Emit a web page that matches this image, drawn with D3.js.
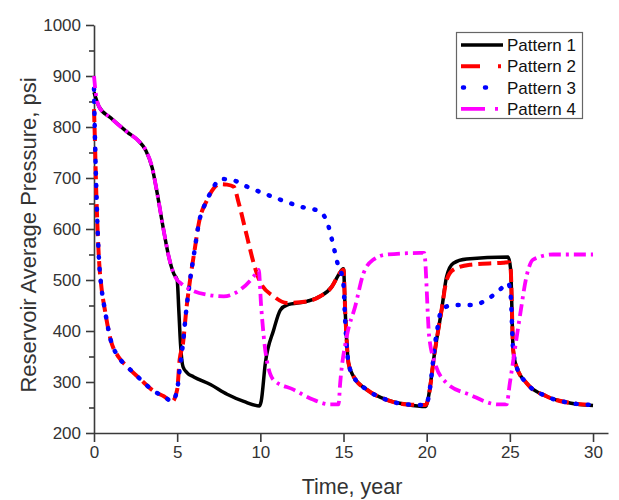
<!DOCTYPE html>
<html>
<head>
<meta charset="utf-8">
<script src="https://cdn.jsdelivr.net/npm/d3@7"></script>
<style>
  html, body { margin: 0; padding: 0; background: #fff; }
  svg { display: block; font-family: "Liberation Sans", Arial, sans-serif; }
</style>
</head>
<body>
<svg id="chart" width="619" height="500"></svg>
<script>
// Reservoir average pressure (psi) against time (years) for four injection patterns.
const xTicks = [0, 5, 10, 15, 20, 25, 30];
const yTicks = [200, 300, 400, 500, 600, 700, 800, 900, 1000];
const yMinorTicks = [250, 350, 450, 550, 650, 750, 850, 950];
const seriesNames = ["Pattern 1", "Pattern 2", "Pattern 3", "Pattern 4"];

const pattern1Time = [0, 0.3, 1, 2, 2.7, 3.1, 3.5, 3.8, 4.2, 4.5, 4.8, 5.0, 5.1, 5.2, 5.35, 5.6, 6, 7, 8, 9, 9.95,
  10.05, 10.3, 10.8, 11.2, 11.6, 12.8, 13.6, 14.3, 14.7, 14.9, 15.0, 15.1, 15.3, 15.6, 16.4, 17.6, 18.8, 19.95,
  20.05, 20.5, 20.9, 21.2, 21.6, 22.4, 24.9, 25.05, 25.2, 25.4, 26, 27.2, 28.6, 30];
const pattern1Value = [868, 840, 818, 790, 772, 755, 720, 670, 595, 545, 512, 500, 440, 375, 330, 318, 310, 295, 276, 262, 253,
  262, 337, 402, 441, 451, 458, 468, 487, 510, 520, 522, 440, 337, 311, 285, 265, 256, 252,
  262, 363, 442, 507, 533, 541, 545, 520, 363, 330, 298, 272, 259, 254];

const pattern2Time = [0, 0.05, 0.12, 0.2, 0.3, 0.45, 0.65, 1, 1.5, 2, 2.8, 3.6, 4.2, 4.7, 5.0, 5.15, 5.35, 5.55, 5.75,
  6.05, 6.3, 6.8, 7.2, 7.6, 8.0, 8.4, 8.7, 9.2, 9.6, 10.0, 10.8, 11.6, 12.8, 13.6, 14.3, 14.7, 14.9, 15.0, 15.1, 15.3, 15.6,
  16.4, 17.6, 18.8, 19.95, 20.05, 20.5, 20.9, 21.2, 21.6, 22.6, 24.6, 24.95, 25.05, 25.2, 25.4, 26, 27.2, 28.6, 30];
const pattern2Value = [835, 780, 690, 610, 540, 485, 442, 383, 348, 330, 305, 282, 272, 262, 285, 344, 376, 442, 494,
  559, 611, 657, 680, 688, 687, 683, 651, 585, 533, 495, 468, 455, 458, 468, 487, 510, 518, 520, 440, 337, 311,
  285, 265, 256, 255, 262, 363, 442, 500, 520, 530, 534, 535, 520, 363, 330, 298, 272, 259, 255];

const pattern3Time = [0, 0.05, 0.12, 0.2, 0.3, 0.45, 0.65, 1, 1.5, 2, 2.8, 3.6, 4.2, 4.7, 5.0, 5.15, 5.35, 5.55, 5.75,
  6.05, 6.3, 6.8, 7.2, 7.6, 8.2, 9.2, 11.0, 12.4, 13.6, 14.1, 14.4, 14.7, 14.9, 15.0, 15.1, 15.3, 15.6,
  16.4, 17.6, 18.8, 19.95, 20.05, 20.6, 20.9, 21.6, 22.8, 23.6, 24.4, 24.9, 25.05, 25.2, 25.4, 26, 27.2, 28.6, 30];
const pattern3Value = [875, 790, 700, 615, 540, 485, 442, 383, 348, 330, 305, 282, 272, 262, 285, 325, 376, 442, 494,
  559, 611, 657, 683, 698, 697, 683, 660, 644, 634, 605, 566, 526, 510, 490, 420, 337, 311,
  285, 265, 256, 255, 262, 396, 442, 451, 451, 461, 481, 494, 470, 363, 330, 298, 272, 259, 255];

const pattern4Time = [0, 0.1, 0.3, 1, 2, 2.7, 3.1, 3.5, 3.8, 4.2, 4.5, 4.8, 5.0, 5.2, 5.8, 6.8, 7.8, 8.8, 9.6, 9.9,
  10.05, 10.35, 10.8, 12, 13.2, 14.2, 14.7, 14.8, 15.2, 15.7, 16.2, 16.8, 17.6, 19.6, 19.85,
  20.15, 20.5, 21.2, 22.6, 24.3, 24.8, 25.0, 25.6, 26.0, 26.4, 27.6, 30];
const pattern4Value = [900, 868, 840, 818, 790, 772, 755, 720, 670, 595, 545, 512, 500, 494, 481, 471, 468, 481, 507, 520,
  448, 350, 304, 285, 265, 256, 256, 298, 390, 448, 513, 540, 550, 553, 553,
  389, 337, 298, 275, 256, 256, 298, 428, 507, 540, 550, 550];

const width = 619, height = 500;
const margin = { left: 94, right: 11, top: 25, bottom: 67 };

const svg = d3.select("#chart");

const x = d3.scaleLinear().domain([0, 30.9]).range([margin.left, width - margin.right]);
const y = d3.scaleLinear().domain([200, 1000]).range([height - margin.bottom, margin.top]);

const axisColor = "#3a3a3a";

// x axis
const xAxis = svg.append("g")
  .attr("transform", `translate(0,${y(200)})`)
  .call(d3.axisBottom(x).tickValues(xTicks).tickFormat(d3.format("d")).tickSize(9).tickPadding(4).tickSizeOuter(0));
xAxis.select(".domain").attr("stroke", axisColor).attr("stroke-width", 1.6);
xAxis.selectAll(".tick line").attr("stroke", axisColor).attr("stroke-width", 1.6);
xAxis.selectAll(".tick text").attr("fill", "#333").style("font-size", "17px");

// y axis with minor ticks
const yMinor = svg.append("g")
  .attr("transform", `translate(${x(0)},0)`)
  .call(d3.axisLeft(y).tickValues(yMinorTicks).tickSize(5).tickFormat("").tickSizeOuter(0));
yMinor.select(".domain").remove();
yMinor.selectAll(".tick line").attr("stroke", axisColor).attr("stroke-width", 1.6);

const yAxis = svg.append("g")
  .attr("transform", `translate(${x(0)},0)`)
  .call(d3.axisLeft(y).tickValues(yTicks).tickFormat(d3.format("d")).tickSize(8).tickPadding(5).tickSizeOuter(0));
yAxis.select(".domain").attr("stroke", axisColor).attr("stroke-width", 1.6);
yAxis.selectAll(".tick line").attr("stroke", axisColor).attr("stroke-width", 1.6);
yAxis.selectAll(".tick text").attr("fill", "#333").style("font-size", "17px");

// axis titles
svg.append("text")
  .attr("x", 352).attr("y", 494)
  .attr("text-anchor", "middle")
  .attr("fill", "#333")
  .style("font-size", "21.5px")
  .text("Time, year");

svg.append("text")
  .attr("transform", "translate(36,235) rotate(-90)")
  .attr("text-anchor", "middle")
  .attr("fill", "#333")
  .style("font-size", "22px")
  .text("Reservoir Average Pressure, psi");

// series
const line = d3.line()
  .x(d => x(d[0]))
  .y(d => y(d[1]))
  .curve(d3.curveMonotoneX);

const series = [
  { name: seriesNames[0], t: pattern1Time, v: pattern1Value, color: "#000000", width: 3.5, dash: null, cap: "butt",
    legendDash: null },
  { name: seriesNames[1], t: pattern2Time, v: pattern2Value, color: "#ff0000", width: 4, dash: "13,6", cap: "butt",
    legendDash: "19,18,3,20" },
  { name: seriesNames[2], t: pattern3Time, v: pattern3Value, color: "#0000ff", width: 4.5, dash: "1,11", cap: "round",
    legendDash: "1,21" },
  { name: seriesNames[3], t: pattern4Time, v: pattern4Value, color: "#ff00ff", width: 3.8, dash: "12,5,3,5", cap: "butt",
    legendDash: "24,10,3,20" }
];

svg.append("g")
  .selectAll("path")
  .data(series)
  .join("path")
  .attr("d", s => line(s.t.map((t, i) => [t, s.v[i]])))
  .attr("fill", "none")
  .attr("stroke", s => s.color)
  .attr("stroke-width", s => s.width)
  .attr("stroke-dasharray", s => s.dash)
  .attr("stroke-linecap", s => s.cap)
  .attr("stroke-linejoin", "round");

// legend
const legend = svg.append("g");
legend.append("rect")
  .attr("x", 456.5).attr("y", 32.5)
  .attr("width", 126).attr("height", 86)
  .attr("fill", "#fff")
  .attr("stroke", "#666")
  .attr("stroke-width", 1.2);

const rows = legend.selectAll("g.row")
  .data(series)
  .join("g")
  .attr("class", "row")
  .attr("transform", (d, i) => `translate(0,${45 + i * 21.3})`);

rows.append("line")
  .attr("x1", d => d.cap === "round" ? 463 : 461)
  .attr("x2", 503)
  .attr("y1", 0).attr("y2", 0)
  .attr("stroke", d => d.color)
  .attr("stroke-width", d => d.width)
  .attr("stroke-dasharray", d => d.legendDash)
  .attr("stroke-linecap", d => d.cap);

rows.append("text")
  .attr("x", 507).attr("y", 6)
  .attr("fill", "#111")
  .style("font-size", "17px")
  .text(d => d.name);
</script>
</body>
</html>
